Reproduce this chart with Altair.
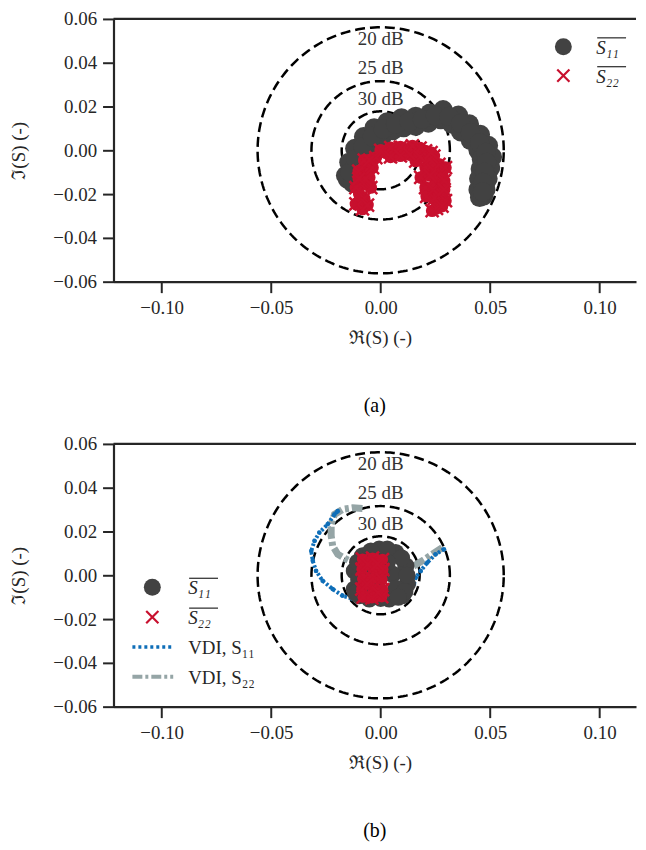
import altair as alt
import numpy as np
import pandas as pd

FONT = "Liberation Serif"
TXT = "#262626"
GRAY = "#424242"
RED = "#c8102e"
BLUE = "#0e6eb8"
VDI22_COLOR = "#95a5a6"

W, H = 525, 264

X_DOMAIN = [-0.122, 0.1166]
Y_DOMAIN = [-0.06, 0.06]
X_TICKS = [-0.10, -0.05, 0.0, 0.05, 0.10]
Y_TICKS = [-0.06, -0.04, -0.02, 0.0, 0.02, 0.04, 0.06]

RING_RADII = [0.0562, 0.0316, 0.0178]
RING_LABELS = ["20 dB", "25 dB", "30 dB"]
RING_LABEL_Y = [0.0506, 0.0377, 0.0233]

# ---- panel (a) ----
A_S11_RE = [-0.0151, -0.0128, -0.0098, -0.0060, -0.0015, 0.0039, 0.0099, 0.0160, 0.0220, 0.0281,
            0.0342, 0.0387, 0.0433, 0.0470, 0.0486, 0.0478, 0.0470, 0.0463, 0.0470,
            -0.0160, -0.0145, -0.0118, -0.0078, -0.0030, 0.0030, 0.0095, 0.0160, 0.0225, 0.0285,
            0.0355, 0.0405, 0.0455, 0.0492, 0.0510, 0.0502, 0.0490, 0.0480,
            -0.0128, -0.0105, -0.0075, -0.0040, 0.0005, 0.0055, 0.0105, 0.0160, 0.0218, 0.0275,
            0.0325, 0.0365, 0.0410, 0.0445, 0.0460, 0.0455, 0.0448, 0.0445, 0.0452,
            -0.0140, -0.0113, -0.0080, -0.0038, 0.0012, 0.0068, 0.0130, 0.0190, 0.0250, 0.0312,
            0.0365, 0.0410, 0.0452, 0.0480, 0.0484, 0.0474, 0.0466, 0.0466]
A_S11_IM = [-0.0132, -0.0071, -0.0011, 0.0042, 0.0080, 0.0110, 0.0126, 0.0133, 0.0149, 0.0164,
            0.0141, 0.0103, 0.0058, 0.0012, -0.0033, -0.0079, -0.0124, -0.0170, -0.0208,
            -0.0115, -0.0055, 0.0008, 0.0062, 0.0102, 0.0130, 0.0148, 0.0155, 0.0170, 0.0185,
            0.0160, 0.0120, 0.0072, 0.0022, -0.0030, -0.0080, -0.0130, -0.0180,
            -0.0150, -0.0085, -0.0028, 0.0022, 0.0058, 0.0090, 0.0104, 0.0110, 0.0125, 0.0140,
            0.0120, 0.0085, 0.0045, 0.0000, -0.0040, -0.0085, -0.0130, -0.0180, -0.0215,
            -0.0100, -0.0040, 0.0017, 0.0063, 0.0097, 0.0120, 0.0130, 0.0142, 0.0158, 0.0155,
            0.0123, 0.0080, 0.0035, -0.0010, -0.0056, -0.0100, -0.0147, -0.0190]

A_S22_RE = [-0.0090, -0.0098, -0.0090, -0.0083, -0.0062, -0.0045, -0.0052, -0.0037, -0.0022, 0.0024,
            0.0069, 0.0115, 0.0160, 0.0205, 0.0243, 0.0266, 0.0281, 0.0266, 0.0281, 0.0266,
            0.0235, 0.0183, 0.0205, 0.0296, 0.0205, 0.0160, 0.0296, 0.0046, 0.0145, -0.0100,
            -0.0113, -0.0113, -0.0083,
            -0.0075, -0.0070, -0.0100, -0.0060, -0.0075, -0.0050, 0.0000, 0.0045, 0.0090, 0.0090,
            0.0135, 0.0180, 0.0180, 0.0225, 0.0230, 0.0240, 0.0250, 0.0225, 0.0240, 0.0245,
            0.0290, 0.0290, 0.0210, 0.0255, 0.0280]
A_S22_IM = [-0.0245, -0.0200, -0.0155, -0.0109, -0.0065, -0.0170, -0.0124, -0.0079, -0.0033, -0.0011,
            -0.0003, 0.0005, 0.0005, -0.0003, -0.0026, -0.0064, -0.0109, -0.0155, -0.0200, -0.0245,
            -0.0276, -0.0124, -0.0170, -0.0230, -0.0079, -0.0049, -0.0079, 0.0012, 0.0020, -0.0095,
            -0.0170, -0.0245, -0.0268,
            -0.0220, -0.0130, -0.0130, -0.0250, -0.0045, -0.0045, 0.0000, -0.0030, 0.0015, -0.0025,
            -0.0020, 0.0010, -0.0030, -0.0040, -0.0010, -0.0090, -0.0130, -0.0115, -0.0180, -0.0220,
            -0.0140, -0.0180, -0.0210, -0.0265, -0.0255]

# ---- panel (b) ----
B_S11_RE = [-0.0007, -0.0083, 0.0069, -0.0120, 0.0115, -0.0120, 0.0122, -0.0052, 0.0039, -0.0007,
            -0.0067, 0.0054, -0.0007, 0.0099, -0.0098,
            0.0030, -0.0045, 0.0095, -0.0105, -0.0100, 0.0120, 0.0070, -0.0060, 0.0000, 0.0110,
            -0.0115, 0.0030, -0.0040, 0.0080]
B_S11_IM = [0.0119, 0.0089, 0.0104, 0.0020, 0.0043, -0.0063, -0.0040, -0.0108, -0.0108, 0.0005,
            0.0005, 0.0005, -0.0070, -0.0093, -0.0093,
            0.0120, 0.0110, 0.0080, 0.0060, -0.0020, 0.0000, -0.0060, -0.0050, -0.0105, -0.0075,
            -0.0080, 0.0060, 0.0060, -0.0100]

B_S22_RE = [-0.0083, -0.0037, 0.0008, -0.0085, -0.0035, 0.0010, -0.0082, -0.0038, 0.0006, -0.0086,
            -0.0036, 0.0009, -0.0080, -0.0040, 0.0005, -0.0060, -0.0015, -0.0062, -0.0012]
B_S22_IM = [0.0074, 0.0078, 0.0072, 0.0028, 0.0030, 0.0026, -0.0017, -0.0015, -0.0019, -0.0063,
            -0.0060, -0.0065, -0.0100, -0.0103, -0.0098, 0.0050, 0.0052, -0.0040, -0.0080]

B_VDI11_RE = [0.0289, 0.0251, 0.0213, 0.0183, 0.0160, 0.0152, 0.0039, -0.0052, -0.0128, -0.0174,
              -0.0219, -0.0265, -0.0295, -0.0310, -0.0317, -0.0302, -0.0280, -0.0242, -0.0211, -0.0196]
B_VDI11_IM = [0.0119, 0.0096, 0.0058, 0.0020, -0.0010, -0.0040, -0.0124, -0.0124, -0.0108, -0.0093,
              -0.0063, -0.0025, 0.0020, 0.0066, 0.0111, 0.0157, 0.0195, 0.0233, 0.0278, 0.0293]

B_VDI22_RE = [0.0281, 0.0236, 0.0190, 0.0152, 0.0099, 0.0000, -0.0090, -0.0158, -0.0196, -0.0219,
              -0.0226, -0.0226, -0.0211, -0.0174, -0.0128, -0.0083]
B_VDI22_IM = [0.0126, 0.0096, 0.0066, 0.0043, 0.0020, 0.0020, 0.0040, 0.0074, 0.0096, 0.0134,
              0.0180, 0.0233, 0.0278, 0.0301, 0.0308, 0.0305]

LBL_S11 = "S\u2081\u2081"
LBL_S22 = "S\u2082\u2082"
LBL_V11 = "VDI, S\u2081\u2081"
LBL_V22 = "VDI, S\u2082\u2082"

X_CROSS = "M-1,-1L1,1M-1,1L1,-1"

# ring geometry (guide circles built from the radii)
theta = np.linspace(0, 2 * np.pi, 241)
ring_df = pd.concat([
    pd.DataFrame({"re": r * np.cos(theta), "im": r * np.sin(theta), "r": r, "k": np.arange(len(theta))})
    for r in RING_RADII
])
ring_lbl_df = pd.DataFrame({"re": [0.0] * 3, "im": RING_LABEL_Y, "t": RING_LABELS})

xs = alt.Scale(domain=X_DOMAIN, nice=False, zero=False)
ys = alt.Scale(domain=Y_DOMAIN, nice=False, zero=False)
XENC = alt.X("re:Q", scale=xs,
             axis=alt.Axis(values=X_TICKS, format=".2f", title="ℜ(S) (-)", titleX=268))
YENC = alt.Y("im:Q", scale=ys,
             axis=alt.Axis(values=Y_TICKS, format=".2f", title="ℑ(S) (-)"))

one = pd.DataFrame({"a": [0]})


def legend_sym(kind, px, py):
    base = alt.Chart(one)
    if kind == "circle":
        return base.mark_circle(size=290, color=GRAY, opacity=1).encode(x=alt.value(px), y=alt.value(py))
    return base.mark_point(shape=X_CROSS, filled=False, size=150, strokeWidth=2.2,
                           color=RED, opacity=1).encode(x=alt.value(px), y=alt.value(py))


def legend_line(color, dash, width, px0, px1, py):
    return alt.Chart(one).mark_rule(color=color, strokeDash=dash, strokeWidth=width).encode(
        x=alt.value(px0), x2=alt.value(px1), y=alt.value(py))


def legend_text(txt, px, py, italic=False, bar=False):
    t = alt.Chart(one).mark_text(align="left", baseline="middle", font=FONT, fontSize=19,
                                 fontStyle="italic" if italic else "normal",
                                 color=TXT).encode(x=alt.value(px), y=alt.value(py), text=alt.value(txt))
    if not bar:
        return t
    ov = alt.Chart(one).mark_rule(color=TXT, strokeWidth=1.2).encode(
        x=alt.value(px + 1), x2=alt.value(px + 30), y=alt.value(py - 10))
    return alt.layer(t, ov)


def panel(s11_re, s11_im, s22_re, s22_im, caption, vdi=None, legend="a", s11_size=380, s22_fill=160):
    rings = alt.Chart(ring_df).mark_line(strokeDash=[10, 5], strokeWidth=2.5, color="black").encode(
        x=XENC, y=YENC, detail="r:N", order="k:Q")
    layers = [rings]
    if vdi is not None:
        v11 = pd.DataFrame({"re": vdi[0], "im": vdi[1], "k": range(len(vdi[0]))})
        v22 = pd.DataFrame({"re": vdi[2], "im": vdi[3], "k": range(len(vdi[2]))})
        layers.append(alt.Chart(v22).mark_line(color=VDI22_COLOR, strokeWidth=7, strokeDash=[12, 3, 4, 3]).encode(
            x=XENC, y=YENC, order="k:Q"))
        layers.append(alt.Chart(v11).mark_line(color=BLUE, strokeWidth=4, strokeDash=[2.5, 2]).encode(
            x=XENC, y=YENC, order="k:Q"))
        layers.append(alt.Chart(v11).mark_circle(color=BLUE, size=22, opacity=1).encode(x=XENC, y=YENC))
    s11 = pd.DataFrame({"re": s11_re, "im": s11_im})
    s22 = pd.DataFrame({"re": s22_re, "im": s22_im})
    layers.append(alt.Chart(s11).mark_circle(size=s11_size, color=GRAY, opacity=1).encode(x=XENC, y=YENC))
    layers.append(alt.Chart(s22).mark_circle(size=s22_fill, color=RED, opacity=1).encode(x=XENC, y=YENC))
    layers.append(alt.Chart(s22).mark_point(shape=X_CROSS, filled=False, size=170, strokeWidth=2.5,
                                            color=RED, opacity=1).encode(x=XENC, y=YENC))
    layers.append(alt.Chart(ring_lbl_df).mark_text(font=FONT, fontSize=19, color="#333333",
                                                   baseline="middle").encode(x=XENC, y=YENC, text="t:N"))
    # top spine
    layers.append(alt.Chart(one).mark_rule(color=TXT, strokeWidth=2.2).encode(
        x=alt.value(0), x2=alt.value(W), y=alt.value(0)))
    if legend == "a":
        layers += [legend_sym("circle", 452, 28), legend_text(LBL_S11, 485, 29, True, True),
                   legend_sym("x", 452, 57), legend_text(LBL_S22, 485, 58, True, True)]
    else:
        layers += [legend_sym("circle", 39, 144), legend_text(LBL_S11, 75, 145, True, True),
                   legend_sym("x", 39, 174), legend_text(LBL_S22, 75, 175, True, True),
                   legend_line(BLUE, [3, 3], 3.5, 19, 60, 204), legend_text(LBL_V11, 75, 205),
                   legend_line(VDI22_COLOR, [10, 3, 3, 3], 4, 19, 60, 234), legend_text(LBL_V22, 75, 235)]
    return alt.layer(*layers).properties(
        width=W, height=H,
        title=alt.TitleParams(caption, orient="bottom", offset=49, anchor="middle"))


pa = panel(A_S11_RE, A_S11_IM, A_S22_RE, A_S22_IM, "(a)")
pb = panel(B_S11_RE, B_S11_IM, B_S22_RE, B_S22_IM, "(b)",
           vdi=(B_VDI11_RE, B_VDI11_IM, B_VDI22_RE, B_VDI22_IM), legend="b", s11_size=300, s22_fill=130)

chart = alt.vconcat(pa, pb, spacing=19).properties(
    padding={"left": 2, "top": 0, "right": 0, "bottom": 0}
).configure_view(stroke=None).configure_axis(
    domainColor=TXT, domainWidth=2.2, tickColor=TXT, tickWidth=2, tickSize=11,
    labelFont=FONT, labelFontSize=19, labelColor=TXT, labelPadding=6,
    titleFont=FONT, titleFontSize=19, titleFontWeight="normal", titleColor=TXT, grid=False
).configure_axisX(titlePadding=11).configure_axisY(titlePadding=24).configure_title(
    font=FONT, fontSize=20, fontWeight="normal", color="black")

chart.save("out.html", embed_options={"renderer": "svg", "actions": False})
